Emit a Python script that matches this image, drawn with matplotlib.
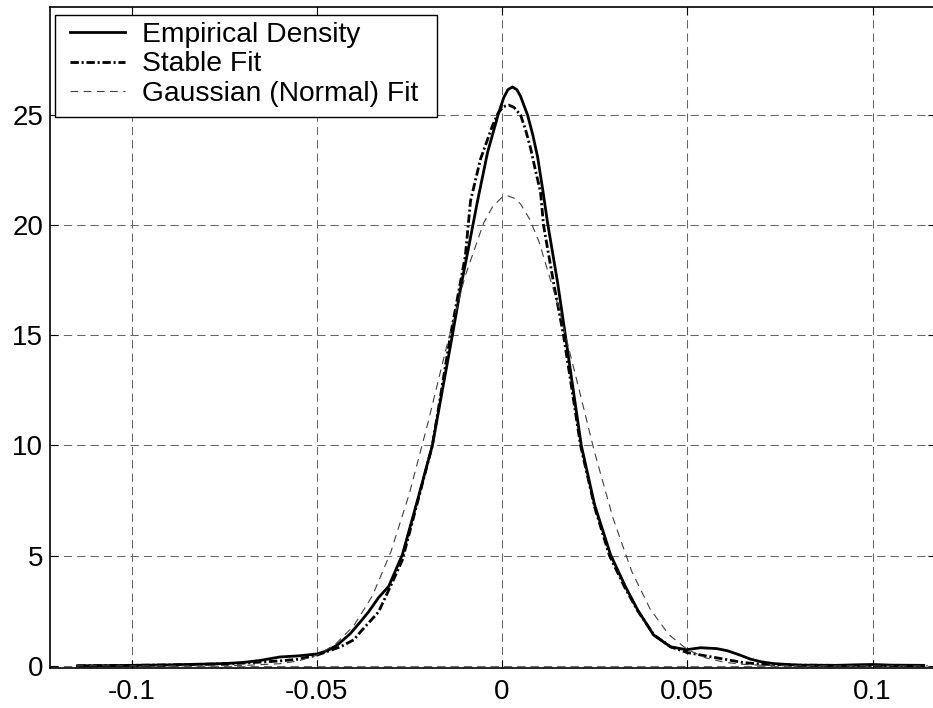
import numpy as np
import matplotlib
matplotlib.use('Agg')
import matplotlib.pyplot as plt
from matplotlib.patches import Rectangle

plt.rcParams['font.family'] = ['Liberation Sans', 'DejaVu Sans']
plt.rcParams['lines.scale_dashes'] = False

# Empirical density
emp_x = [-0.1146, -0.105, -0.100, -0.090, -0.080, -0.075, -0.070, -0.065, -0.060,
         -0.055, -0.0498, -0.0470, -0.0444, -0.0410, -0.0382, -0.0360, -0.0333,
         -0.0306, -0.0269, -0.0230, -0.0188, -0.0160, -0.0134, -0.0110, -0.0090,
         -0.0066, -0.0039, -0.0009, 0.0005, 0.0016, 0.0028, 0.0040, 0.0050,
         0.0060, 0.0069, 0.0083, 0.0096, 0.0110,
         0.0123, 0.0150, 0.0171, 0.0195, 0.0214, 0.0250, 0.0293, 0.0333,
         0.0366, 0.0409, 0.0455, 0.0498, 0.0536, 0.0580, 0.0609, 0.0640,
         0.0671, 0.0700, 0.0733, 0.0800, 0.0900, 0.0970, 0.1000, 0.1050, 0.1138]
emp_y = [0.00, 0.01, 0.02, 0.04, 0.08, 0.10, 0.15, 0.25, 0.40,
         0.45, 0.54, 0.70, 0.95, 1.45, 2.00, 2.45, 3.10,
         3.60, 5.04, 7.40, 10.0, 12.6, 15.0, 17.3, 19.0,
         21.1, 23.3, 25.1, 25.8, 26.15, 26.27, 26.15, 25.85,
         25.4, 25.0, 24.1, 23.1, 21.6,
         20.1, 17.4, 15.0, 12.2, 10.0, 7.30, 5.04, 3.60,
         2.54, 1.40, 0.86, 0.73, 0.82, 0.78, 0.68, 0.50,
         0.30, 0.18, 0.10, 0.03, 0.02, 0.05, 0.06, 0.03, 0.02]

# Stable fit
stb_x = [-0.1146, -0.100, -0.090, -0.080, -0.070, -0.060, -0.055, -0.050, -0.0436,
         -0.0400, -0.0382, -0.0333, -0.0293, -0.0269, -0.0230, -0.0188, -0.0139,
         -0.0099, -0.0085, -0.0058, -0.0026, -0.0010, 0.0004, 0.0018, 0.0032,
         0.0050, 0.0064, 0.0077, 0.0090,
         0.0104, 0.0112, 0.0140, 0.0166, 0.0190, 0.0212, 0.0250, 0.0290,
         0.0330, 0.0366, 0.0410, 0.0455, 0.0500, 0.0550, 0.0610, 0.0650,
         0.0700, 0.0800, 0.1000, 0.1138]
stb_y = [0.00, 0.02, 0.04, 0.07, 0.12, 0.22, 0.30, 0.48, 0.86,
         1.18, 1.54, 2.45, 3.90, 4.80, 7.30, 10.0, 15.0,
         18.6, 21.1, 23.0, 24.5, 25.1, 25.38, 25.45, 25.35,
         25.0, 24.3, 23.5, 22.5,
         21.5, 20.0, 17.3, 15.0, 12.4, 10.0, 7.20, 5.00,
         3.60, 2.50, 1.40, 0.86, 0.60, 0.45, 0.27, 0.15,
         0.07, 0.03, 0.01, 0.00]

# Gaussian (normal) fit
gau_x = [-0.115, -0.090, -0.080, -0.070, -0.060, -0.055, -0.050, -0.045, -0.040,
         -0.035, -0.030, -0.025, -0.020, -0.015, -0.010, -0.005, -0.0025, 0.000,
         0.0015, 0.0035, 0.005, 0.0075, 0.010, 0.015, 0.020, 0.025, 0.030, 0.035,
         0.040, 0.045, 0.050, 0.055, 0.060, 0.065, 0.070, 0.080, 0.090, 0.115]
gau_y = [0.00, 0.00, 0.002, 0.014, 0.095, 0.22, 0.48, 0.97, 1.82,
         3.17, 5.17, 7.82, 11.02, 14.46, 17.66, 20.08, 20.85, 21.26,
         21.33, 21.21, 20.96, 20.26, 19.24, 16.44, 13.08, 9.68, 6.68, 4.29,
         2.57, 1.42, 0.74, 0.36, 0.16, 0.067, 0.026, 0.003, 0.00, 0.00]

labels = ['Empirical Density', 'Stable Fit', 'Gaussian (Normal) Fit']
xticks = [-0.1, -0.05, 0, 0.05, 0.1]
xticklabels = ['-0.1', '-0.05', '0', '0.05', '0.1']
yticks = [0, 5, 10, 15, 20, 25]

W, H = 933, 708
AX_L, AX_T, AX_W, AX_H = 50, 7, 886, 661
fig = plt.figure(figsize=(W / 100, H / 100), dpi=100)
ax = fig.add_axes([AX_L / W, (H - AX_T - AX_H) / H, AX_W / W, AX_H / H])

ax.plot(emp_x, emp_y, color='black', lw=2.0, label=labels[0])
ax.plot(stb_x, stb_y, color='black', lw=2.0, dashes=(6, 2, 1.5, 2), label=labels[1])
ax.plot(gau_x, gau_y, color='0.25', lw=0.8, dashes=(5.5, 4), label=labels[2])

ax.set_xlim(-0.1220, -0.1220 + AX_W / 3705)
ax.set_ylim(-0.1, 29.9)
ax.set_xticks(xticks)
ax.set_xticklabels(xticklabels)
ax.set_yticks(yticks)

ax.grid(True, color='0.4', lw=0.75, dashes=(6, 3.6))
ax.tick_params(direction='in', length=5.5, width=0.8, top=True, right=True,
               labelsize=20, colors='black')
ax.tick_params(axis='x', pad=8)
ax.tick_params(axis='y', pad=5)
for s in ax.spines.values():
    s.set_linewidth(1.2)


def px(x, y):
    # pixel position (from top-left of figure) -> axes fraction
    return (x - AX_L) / AX_W, 1 - (y - AX_T) / AX_H


# legend frame drawn by hand so the padding matches the original box
x0, y0 = px(55, 117)
x1, y1 = px(437, 15)
ax.add_patch(Rectangle((x0, y0), x1 - x0, y1 - y0, transform=ax.transAxes,
                       facecolor='white', edgecolor='black', lw=1.0, zorder=4.9))

leg = ax.legend(loc='upper left', bbox_to_anchor=px(70, 22), fontsize=20.3,
                frameon=False, borderaxespad=0, borderpad=0,
                handlelength=1.95, handletextpad=0.6, labelspacing=0.12)
leg.set_zorder(5)

fig.savefig('out.png', dpi=100)
